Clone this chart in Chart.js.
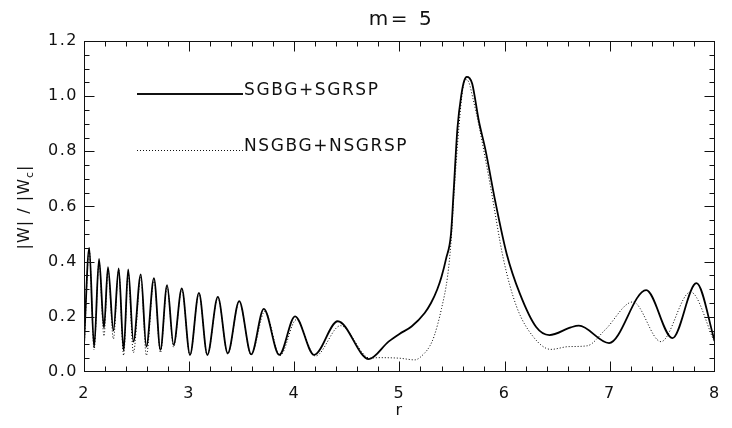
<!DOCTYPE html>
<html>
<head>
<meta charset="utf-8">
<title>m= 5</title>
<script src="https://cdn.jsdelivr.net/npm/chart.js@4.4.1/dist/chart.umd.min.js"></script>
<style>
  html, body { margin: 0; padding: 0; background: #fff; }
  #wrap { width: 732px; height: 428px; }
</style>
</head>
<body>
<div id="wrap"><canvas id="chart" width="732" height="428"></canvas></div>
<script>
/* ── Data ───────────────────────────────────────────────────────────────── */
const solidR = [
  2.00, 2.05, 2.096, 2.143, 2.19, 2.228, 2.28, 2.33, 2.377, 2.42, 2.47, 2.54,
  2.593, 2.665, 2.727, 2.79, 2.852, 2.93, 3.008, 3.093, 3.173, 3.273, 3.367,
  3.476, 3.59, 3.71, 3.857, 4.007, 4.188, 4.413, 4.709, 4.896, 5.0, 5.115,
  5.24, 5.30, 5.36, 5.40, 5.443, 5.49, 5.514, 5.552, 5.589, 5.615, 5.64,
  5.665, 5.692, 5.755, 5.817, 5.91, 6.02, 6.145, 6.30, 6.426, 6.63, 6.706,
  6.993, 7.346, 7.596, 7.824, 8.0
];
const solidW = [
  0.10, 0.45, 0.09, 0.41, 0.16, 0.38, 0.15, 0.376, 0.078, 0.372, 0.11, 0.354,
  0.092, 0.34, 0.08, 0.315, 0.098, 0.303, 0.062, 0.287, 0.062, 0.272, 0.068,
  0.257, 0.064, 0.229, 0.062, 0.202, 0.062, 0.184, 0.047, 0.11, 0.138, 0.165,
  0.214, 0.25, 0.30, 0.345, 0.41, 0.50, 0.646, 0.886, 1.006, 1.055, 1.07,
  1.066, 1.045, 0.91, 0.807, 0.621, 0.428, 0.284, 0.163, 0.134, 0.162, 0.168,
  0.105, 0.297, 0.123, 0.322, 0.11
];

const dottedR = [
  2.00, 2.05, 2.096, 2.143, 2.19, 2.228, 2.28, 2.33, 2.377, 2.42, 2.47, 2.54,
  2.593, 2.665, 2.727, 2.79, 2.852, 2.93, 3.008, 3.093, 3.173, 3.273, 3.367,
  3.476, 3.59, 3.72, 3.865, 4.02, 4.20, 4.44, 4.72, 4.80, 5.0, 5.146, 5.24,
  5.29, 5.33, 5.40, 5.458, 5.49, 5.52, 5.567, 5.60, 5.63, 5.66, 5.70, 5.755,
  5.864, 5.989, 6.113, 6.27, 6.44, 6.61, 6.785, 6.956, 7.22, 7.487, 7.768, 8.0
];
const dottedW = [
  0.07, 0.44, 0.08, 0.40, 0.13, 0.37, 0.12, 0.37, 0.06, 0.36, 0.07, 0.345,
  0.06, 0.335, 0.07, 0.31, 0.09, 0.30, 0.06, 0.285, 0.06, 0.27, 0.065,
  0.255, 0.062, 0.22, 0.06, 0.19, 0.058, 0.168, 0.05, 0.052, 0.05, 0.044, 0.069,
  0.095, 0.13, 0.23, 0.348, 0.47, 0.652, 0.895, 1.02, 1.06, 1.05, 0.99, 0.895,
  0.676, 0.409, 0.238, 0.129, 0.082, 0.092, 0.095, 0.153, 0.254, 0.11, 0.29, 0.105
];

const xTicks = [2, 3, 4, 5, 6, 7, 8];
const yTicks = [0.0, 0.2, 0.4, 0.6, 0.8, 1.0, 1.2];
const seriesNames = ["SGBG+SGRSP", "NSGBG+NSGRSP"];

const FONT = '"DejaVu Sans", "Liberation Sans", sans-serif';
const INK = "#111";

const toPoints = (rs, ws) => rs.map((r, i) => ({ x: r, y: ws[i] }));

/* ── Wider, Hershey-like lettering for the canvas text ─────────────────── */
const spacing = {
  id: "spacing",
  beforeDraw(chart) { chart.ctx.letterSpacing = "1.5px"; },
  afterDraw(chart) { chart.ctx.letterSpacing = "0px"; }
};

/* ── IDL-style frame, inward ticks, title, y label, legend ─────────────── */
const idlFrame = {
  id: "idlFrame",
  afterDraw(chart) {
    const { ctx, chartArea: a, scales: { x, y } } = chart;
    const L = Math.round(a.left) + 0.5, R = Math.round(a.right) - 0.5;
    const T = Math.round(a.top) + 0.5, B = Math.round(a.bottom) - 0.5;

    ctx.save();
    ctx.strokeStyle = INK;
    ctx.lineWidth = 1;
    ctx.strokeRect(L, T, R - L, B - T);

    ctx.beginPath();
    // x ticks: major every 1, minor every 0.2
    for (let i = 0; i <= 30; i++) {
      let px = Math.round(x.getPixelForValue(2 + i * 0.2)) + 0.5;
      px = Math.min(Math.max(px, L), R);
      const len = i % 5 === 0 ? 10 : 5;
      ctx.moveTo(px, B); ctx.lineTo(px, B - len);
      ctx.moveTo(px, T); ctx.lineTo(px, T + len);
    }
    // y ticks: major every 0.2, minor every 0.05
    for (let i = 0; i <= 24; i++) {
      let py = Math.round(y.getPixelForValue(i * 0.05)) + 0.5;
      py = Math.min(Math.max(py, T), B);
      const len = i % 4 === 0 ? 10 : 5;
      ctx.moveTo(L, py); ctx.lineTo(L + len, py);
      ctx.moveTo(R, py); ctx.lineTo(R - len, py);
    }
    ctx.stroke();

    // title
    ctx.fillStyle = INK;
    ctx.font = `20px ${FONT}`;
    ctx.letterSpacing = "2.5px";
    ctx.textAlign = "center";
    ctx.textBaseline = "middle";
    ctx.fillText("m= 5", (a.left + a.right) / 2 + 2, 20);

    // y-axis label |W|/|Wc| with subscript c
    ctx.save();
    ctx.letterSpacing = "1px";
    ctx.translate(23, 207);
    ctx.rotate(-Math.PI / 2);
    ctx.textBaseline = "alphabetic";
    ctx.textAlign = "left";
    const main1 = "|W| / |W", sub = "c", main2 = "|";
    ctx.font = `16px ${FONT}`;
    const w1 = ctx.measureText(main1).width, w3 = ctx.measureText(main2).width;
    ctx.font = `11px ${FONT}`;
    const w2 = ctx.measureText(sub).width;
    let cx = -(w1 + w2 + w3) / 2;
    ctx.font = `16px ${FONT}`;
    ctx.fillText(main1, cx, 6); cx += w1;
    ctx.font = `11px ${FONT}`;
    ctx.fillText(sub, cx, 10); cx += w2;
    ctx.font = `16px ${FONT}`;
    ctx.fillText(main2, cx, 6);
    ctx.restore();

    // legend
    const lx0 = a.left + 53, lx1 = a.left + 159;
    ctx.lineWidth = 2;
    ctx.beginPath();
    ctx.moveTo(lx0, 94); ctx.lineTo(lx1, 94);
    ctx.stroke();
    ctx.lineWidth = 1;
    ctx.setLineDash([1, 2]);
    ctx.beginPath();
    ctx.moveTo(lx0, 150.5); ctx.lineTo(lx1, 150.5);
    ctx.stroke();
    ctx.setLineDash([]);

    ctx.font = `17px ${FONT}`;
    ctx.textAlign = "left";
    ctx.textBaseline = "alphabetic";
    ctx.letterSpacing = "1.6px";
    ctx.fillText(seriesNames[0], lx1 + 1, 95);
    ctx.fillText(seriesNames[1], lx1 + 1, 151);
    ctx.restore();
  }
};

new Chart(document.getElementById("chart"), {
  type: "line",
  data: {
    datasets: [
      {
        label: seriesNames[0],
        data: toPoints(solidR, solidW),
        borderColor: "#000",
        borderWidth: 1.8,
        pointRadius: 0,
        cubicInterpolationMode: "monotone",
        fill: false,
      },
      {
        label: seriesNames[1],
        data: toPoints(dottedR, dottedW),
        borderColor: "#000",
        borderWidth: 1,
        borderDash: [1, 2],
        pointRadius: 0,
        cubicInterpolationMode: "monotone",
        fill: false,
      }
    ]
  },
  options: {
    responsive: false,
    animation: false,
    events: [],
    layout: { padding: { top: 41, right: 7, left: 0, bottom: 0 } },
    plugins: {
      legend: { display: false },
      title: { display: false },
      tooltip: { enabled: false }
    },
    scales: {
      x: {
        type: "linear",
        min: 2,
        max: 8,
        grid: { display: false, drawTicks: false },
        border: { display: false },
        afterBuildTicks: (s) => { s.ticks = xTicks.map((v) => ({ value: v })); },
        afterFit: (s) => { s.height = 56; },
        ticks: {
          color: INK,
          padding: 12,
          maxRotation: 0,
          font: { family: FONT, size: 16 },
          callback: (v) => String(v)
        },
        title: {
          display: true,
          text: "r",
          color: INK,
          font: { family: FONT, size: 16 },
          padding: { top: 0, bottom: 8 }
        }
      },
      y: {
        min: 0,
        max: 1.2,
        grid: { display: false, drawTicks: false },
        border: { display: false },
        afterBuildTicks: (s) => { s.ticks = yTicks.map((v) => ({ value: v })); },
        afterFit: (s) => { s.width = 84; },
        ticks: {
          color: INK,
          padding: 6,
          font: { family: FONT, size: 16 },
          callback: (v) => Number(v).toFixed(1)
        }
      }
    }
  },
  plugins: [spacing, idlFrame]
});
</script>
</body>
</html>
